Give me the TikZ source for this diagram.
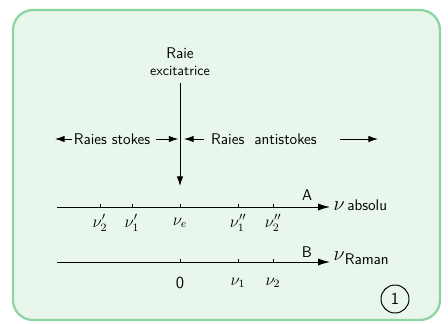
\documentclass[tikz,border=0pt]{standalone}
\usetikzlibrary{arrows.meta}
\definecolor{cadre}{RGB}{140,212,160}
\definecolor{fond}{RGB}{232,246,236}
\tikzset{
  fleche/.style={-{Latex[length=2.4mm,width=1.6mm]}, line width=0.6pt},
  axe/.style={-{Latex[length=3mm,width=1.8mm]}, line width=0.7pt},
  etiq/.style={font=\sffamily\fontsize{11}{13}\selectfont, inner sep=1pt},
  grad/.style={font=\sffamily\large, inner sep=1pt},
  graduation/.style={line width=0.7pt}
}
\begin{document}
\begin{tikzpicture}
  \useasboundingbox (0,0) rectangle (11.2,8.075);
  % cadre
  \draw[cadre, fill=fond, line width=1.6pt, rounded corners=0.5cm] (0.325,0.075) rectangle (11.0,7.825);

  % raie excitatrice
  \node[etiq] (raie) at (4.5,6.75) {Raie};
  \node[etiq, font=\sffamily\fontsize{10}{12}\selectfont] (excit) at (4.5,6.3) {excitatrice};
  \coordinate (haut) at (4.5,6.0);
  \coordinate (bas) at (4.5,3.425);
  \draw[fleche] (haut) -- (bas);

  % raies stokes / antistokes
  \node[etiq] (stokes) at (2.8,4.6) {Raies stokes};
  \node[etiq] (anti) at (6.6,4.6) {Raies\ \ antistokes};
  \coordinate (gauche) at (1.375,4.6);
  \coordinate (milieuG) at (4.46,4.6);
  \coordinate (milieuD) at (4.6,4.6);
  \coordinate (droiteA) at (8.5,4.6);
  \coordinate (droiteB) at (9.45,4.6);
  \draw[fleche] (stokes.west) -- (gauche);
  \draw[fleche] ([xshift=3pt]stokes.east) -- (milieuG);
  \draw[fleche] ([xshift=-4pt]anti.west) -- (milieuD);
  \draw[fleche] (droiteA) -- (droiteB);

  % axe A
  \coordinate (A0) at (1.425,2.9);
  \coordinate (A1) at (8.25,2.9);
  \draw[axe] (A0) -- (A1);
  \node[etiq, anchor=west] (absolu) at (8.3,2.95) {{\Large$\nu$}\,absolu};
  \node[etiq] (labA) at (7.675,3.2) {A};
  \foreach \x/\t in {2.5/{\nu'_2}, 3.3/{\nu'_1}, 4.5/{\nu_e}, 5.95/{\nu''_1}, 6.825/{\nu''_2}}
    \draw[graduation] (\x,2.9) -- (\x,2.98) node[grad, at={(\x,2.5)}] {$\t$};

  % axe B
  \coordinate (B0) at (1.425,1.525);
  \coordinate (B1) at (8.25,1.525);
  \draw[axe] (B0) -- (B1);
  \node[etiq, anchor=west] (raman) at (8.3,1.62) {{\Large$\nu$}\raisebox{-0.6ex}{Raman}};
  \node[etiq] (labB) at (7.675,1.78) {B};
  \foreach \x/\t in {4.5/{\mathsf{0}}, 5.95/{\nu_1}, 6.825/{\nu_2}}
    \draw[graduation] (\x,1.525) -- (\x,1.605) node[grad, at={(\x,1.0)}] {$\t$};

  % numero
  \node[draw, circle, line width=0.7pt, minimum size=0.7cm, etiq, font=\sffamily\large] (num) at (9.875,0.6) {1};
\end{tikzpicture}
\end{document}
